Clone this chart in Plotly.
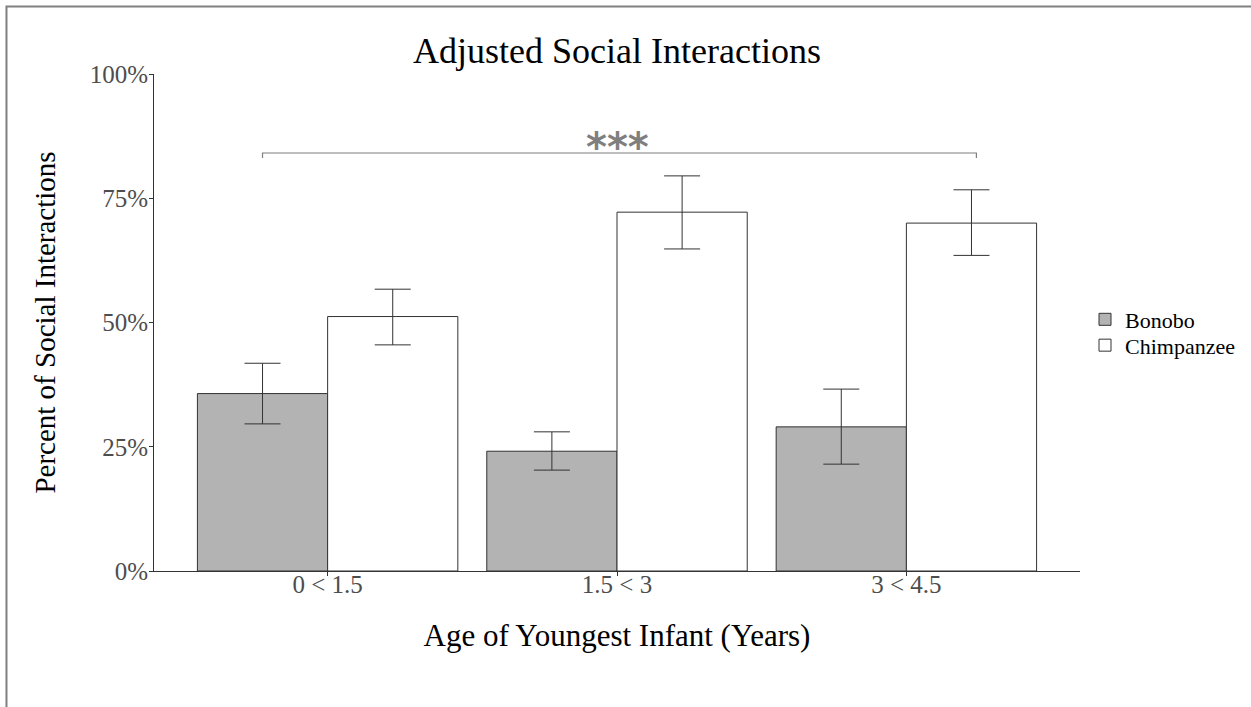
import plotly.graph_objects as go

categories = ["0 < 1.5", "1.5 < 3", "3 < 4.5"]
series_names = ["Bonobo", "Chimpanzee"]

bonobo_mean = [0.357, 0.241, 0.290]
bonobo_upper = [0.418, 0.280, 0.366]
bonobo_lower = [0.296, 0.203, 0.215]

chimp_mean = [0.512, 0.722, 0.700]
chimp_upper = [0.567, 0.795, 0.767]
chimp_lower = [0.455, 0.648, 0.635]

y_ticks = [0, 0.25, 0.5, 0.75, 1.0]
y_tick_labels = ["0%", "25%", "50%", "75%", "100%"]

sig_label = "***"
sig_level = 0.841

FONT = "Liberation Serif"

def err(mean, up, lo):
    return dict(type="data", symmetric=False,
                array=[u - m for u, m in zip(up, mean)],
                arrayminus=[m - l for m, l in zip(mean, lo)],
                color="#333333", thickness=1, width=18)

fig = go.Figure()
fig.add_trace(go.Bar(x=categories, y=bonobo_mean, name=series_names[0], legend="legend",
                     showlegend=True,
                     marker=dict(color="#b3b3b3", line=dict(color="#333333", width=1)),
                     error_y=err(bonobo_mean, bonobo_upper, bonobo_lower)))
fig.add_trace(go.Bar(x=categories, y=chimp_mean, name=series_names[1], legend="legend2",
                     showlegend=True,
                     marker=dict(color="#ffffff", line=dict(color="#333333", width=1)),
                     error_y=err(chimp_mean, chimp_upper, chimp_lower)))

# significance bracket (Bonobo of first group to Chimpanzee of last group)
x_left = 0 - 0.225
x_right = 2 + 0.242
fig.add_shape(type="path", xref="x", yref="y",
              path=f"M {x_left},{sig_level-0.01} L {x_left},{sig_level} L {x_right},{sig_level} L {x_right},{sig_level-0.01}",
              line=dict(color="#7f7f7f", width=1.2))
fig.add_annotation(x=1, y=0.861, xref="x", yref="y", text="<b>" + sig_label + "</b>",
                   showarrow=False, yanchor="middle", yshift=-4,
                   font=dict(family="DejaVu Sans", size=40, color="#7f7f7f"))

# outer frame (partially visible)
fig.add_shape(type="rect", xref="paper", yref="paper",
              x0=-0.1593, x1=1.5, y0=-0.6, y1=1.1358,
              line=dict(color="#808080", width=2), layer="below")

legend_common = dict(x=1.0054, xanchor="left", yanchor="middle",
                     font=dict(family=FONT, size=22, color="black"),
                     bgcolor="rgba(0,0,0,0)", itemwidth=30)

fig.update_layout(
    width=1251, height=707,
    margin=dict(l=154, r=171, t=74, b=136, autoexpand=False),
    paper_bgcolor="white", plot_bgcolor="white",
    showlegend=True,
    barmode="group", bargap=0.1, bargroupgap=0,
    font=dict(family=FONT, color="black"),
    title=dict(text="Adjusted Social Interactions", x=0.5, xref="paper",
               y=1 - 50 / 707, yref="container", yanchor="middle",
               font=dict(family=FONT, size=36, color="black")),
    legend=dict(y=0.506, **legend_common),
    legend2=dict(y=0.454, **legend_common),
    xaxis=dict(type="category", range=[-0.6, 2.6], showline=True, linecolor="#333333",
               linewidth=1, ticks="outside", ticklen=4, tickcolor="#333333",
               ticklabelstandoff=-13, automargin=False,
               tickfont=dict(family=FONT, size=25, color="#4d4d4d"),
               title=dict(text="Age of Youngest Infant (Years)", standoff=27,
                          font=dict(family=FONT, size=31, color="black")),
               showgrid=False, zeroline=False),
    yaxis=dict(range=[0, 1], tickvals=y_ticks, ticktext=y_tick_labels, showline=True,
               linecolor="#333333", linewidth=1, ticks="outside", ticklen=4,
               tickcolor="#333333", ticklabelstandoff=-4, automargin=False,
               tickfont=dict(family=FONT, size=25, color="#4d4d4d"),
               title=dict(text="Percent of Social Interactions", standoff=25,
                          font=dict(family=FONT, size=29, color="black")),
               showgrid=False, zeroline=False),
)

fig.write_html("out.html", config={"displayModeBar": False},
               post_script="document.body.style.margin='0';document.body.style.padding='0';")
